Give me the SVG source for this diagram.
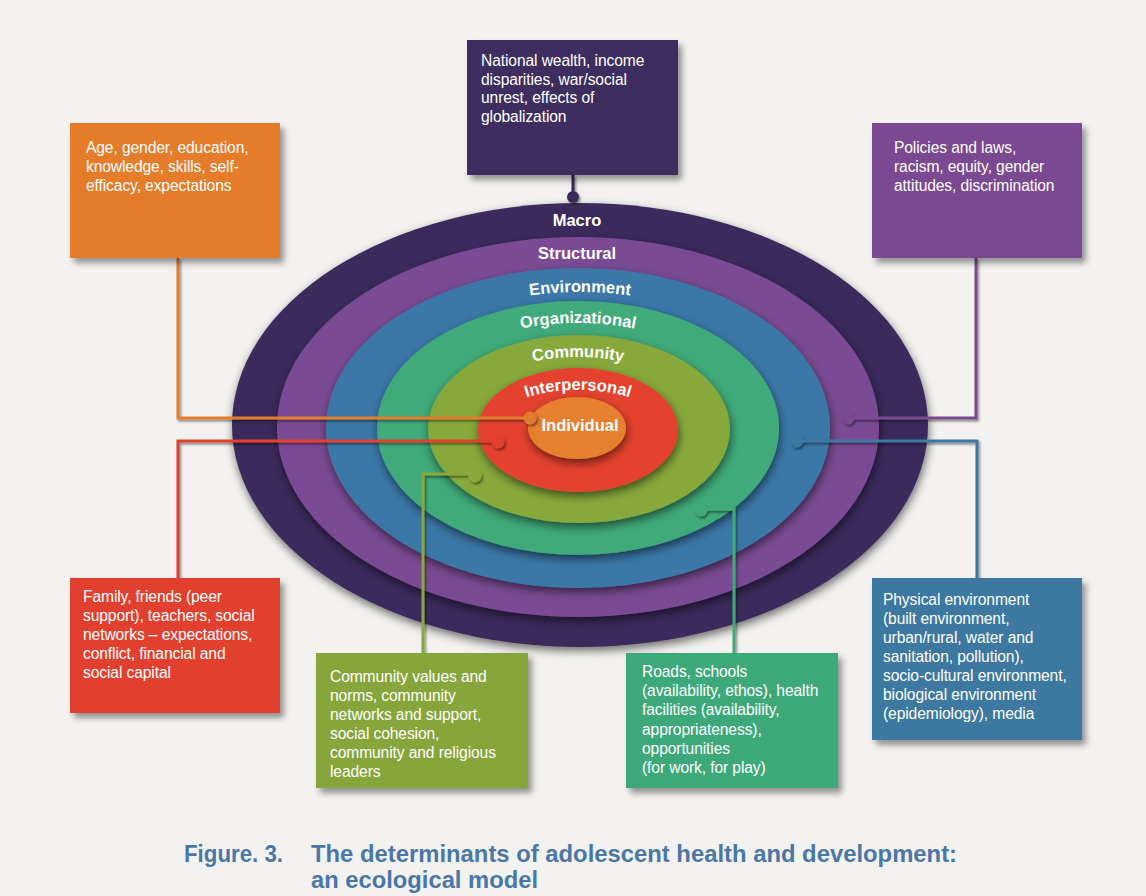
<svg xmlns="http://www.w3.org/2000/svg" width="1146" height="896" viewBox="0 0 1146 896">
  <defs>
    <filter id="boxShadow" x="-10%" y="-10%" width="125%" height="130%">
      <feDropShadow dx="4" dy="5" stdDeviation="3" flood-color="#000" flood-opacity="0.4"/>
    </filter>
    <filter id="ringShadow" x="-10%" y="-10%" width="120%" height="125%">
      <feDropShadow dx="1" dy="4" stdDeviation="5" flood-color="#000" flood-opacity="0.55"/>
    </filter>
    <filter id="lineShadow" x="-10%" y="-10%" width="120%" height="120%">
      <feDropShadow dx="1.5" dy="2" stdDeviation="1.2" flood-color="#000" flood-opacity="0.45"/>
    </filter>
    <!-- baselines for the curved ring labels -->
    <path id="arcEnv" d="M350,437 A230,145 0 0 1 810,437"/>
    <path id="arcOrg" d="M398,433 A180,110 0 0 1 758,433"/>
    <path id="arcCom" d="M443,437 A135,80 0 0 1 713,437"/>
    <path id="arcInt" d="M483,436 A95,46 0 0 1 673,436"/>
  </defs>
  <style>
    .box text { font-family: "Liberation Sans", Arial, sans-serif; font-size: 15.6px; fill: #ffffff; letter-spacing: -0.1px; }
    .ring-label { font-family: "Liberation Sans", Arial, sans-serif; font-size: 16.5px; font-weight: bold; fill: #ffffff; text-anchor: middle; }
    .conn path { fill: none; stroke-width: 3; }
    .caption { font-family: "Liberation Sans", Arial, sans-serif; font-size: 24px; font-weight: bold; fill: #4a77a5; }
  </style>

  <rect width="1146" height="896" fill="#f3f2f0"/>

  <!-- concentric ecological levels -->
  <g id="rings">
    <ellipse id="ring-macro" cx="580" cy="425" rx="348" ry="222" fill="#3b2c5c" filter="url(#ringShadow)"/>
    <ellipse id="ring-structural" cx="578" cy="427" rx="301" ry="190" fill="#7a4b94" filter="url(#ringShadow)"/>
    <ellipse id="ring-environment" cx="578" cy="428" rx="252" ry="160" fill="#3b78a8" filter="url(#ringShadow)"/>
    <ellipse id="ring-organizational" cx="578" cy="428" rx="201" ry="127" fill="#40aa7a" filter="url(#ringShadow)"/>
    <ellipse id="ring-community" cx="579" cy="429" rx="151" ry="94" fill="#87a93a" filter="url(#ringShadow)"/>
    <ellipse id="ring-interpersonal" cx="578" cy="430" rx="100" ry="62" fill="#e4422f" filter="url(#ringShadow)"/>
    <ellipse id="ring-individual" cx="577" cy="428" rx="49" ry="31" fill="#e67f2e" filter="url(#ringShadow)"/>

    <text class="ring-label" x="577" y="226">Macro</text>
    <text class="ring-label" x="577" y="259">Structural</text>
    <text class="ring-label"><textPath href="#arcEnv" startOffset="50%">Environment</textPath></text>
    <text class="ring-label"><textPath href="#arcOrg" startOffset="50%">Organizational</textPath></text>
    <text class="ring-label" fill="#f6f4dc"><textPath href="#arcCom" startOffset="50%">Community</textPath></text>
    <text class="ring-label"><textPath href="#arcInt" startOffset="50%">Interpersonal</textPath></text>
    <text class="ring-label" x="580" y="431">Individual</text>
  </g>

  <!-- connectors from the boxes to their levels -->
  <g id="connectors" class="conn" filter="url(#lineShadow)">
    <path d="M573,175 V197" stroke="#3b2c5c"/>
    <circle cx="573" cy="197" r="6" fill="#3b2c5c"/>

    <path d="M178,258 V418 H530" stroke="#e27c2d"/>
    <circle cx="530" cy="418" r="6.5" fill="#e27c2d"/>

    <path d="M976,258 V418 H848" stroke="#7a4a92"/>
    <circle cx="848" cy="418" r="6.5" fill="#7a4a92"/>

    <path d="M178,578 V441 H498" stroke="#e2412e"/>
    <circle cx="498" cy="442" r="6.5" fill="#e2412e"/>

    <path d="M977,578 V441 H797" stroke="#3c78a2"/>
    <circle cx="797" cy="441" r="6.5" fill="#3c78a2"/>

    <path d="M423,653 V474 H475" stroke="#87a93a"/>
    <circle cx="475" cy="476" r="6.5" fill="#87a93a"/>

    <path d="M734,653 V509 H701" stroke="#40aa7a"/>
    <circle cx="701" cy="510" r="6.5" fill="#40aa7a"/>
  </g>

  <g id="box-macro" class="box">
    <rect x="467" y="40" width="211" height="135" fill="#3d2d5e" filter="url(#boxShadow)"/>
    <text x="481" y="66">National wealth, income<tspan x="481" dy="18.7">disparities, war/social</tspan><tspan x="481" dy="18.7">unrest, effects of</tspan><tspan x="481" dy="18.7">globalization</tspan></text>
  </g>

  <g id="box-individual" class="box">
    <rect x="70" y="123" width="210" height="135" fill="#e47b2c" filter="url(#boxShadow)"/>
    <text x="86" y="153">Age, gender, education,<tspan x="86" dy="19">knowledge, skills, self-</tspan><tspan x="86" dy="19">efficacy, expectations</tspan></text>
  </g>

  <g id="box-structural" class="box">
    <rect x="872" y="123" width="210" height="135" fill="#7a4891" filter="url(#boxShadow)"/>
    <text x="894" y="153">Policies and laws,<tspan x="894" dy="19">racism, equity, gender</tspan><tspan x="894" dy="19">attitudes, discrimination</tspan></text>
  </g>

  <g id="box-interpersonal" class="box">
    <rect x="70" y="578" width="210" height="135" fill="#e2402e" filter="url(#boxShadow)"/>
    <text x="83" y="602">Family, friends (peer<tspan x="83" dy="19">support), teachers, social</tspan><tspan x="83" dy="19">networks – expectations,</tspan><tspan x="83" dy="19">conflict, financial and</tspan><tspan x="83" dy="19">social capital</tspan></text>
  </g>

  <g id="box-environment" class="box">
    <rect x="872" y="578" width="210" height="162" fill="#3d78a0" filter="url(#boxShadow)"/>
    <text x="883" y="605">Physical environment<tspan x="883" dy="19">(built environment,</tspan><tspan x="883" dy="19">urban/rural, water and</tspan><tspan x="883" dy="19">sanitation, pollution),</tspan><tspan x="883" dy="19">socio-cultural environment,</tspan><tspan x="883" dy="19">biological environment</tspan><tspan x="883" dy="19">(epidemiology), media</tspan></text>
  </g>

  <g id="box-community" class="box">
    <rect x="316" y="653" width="212" height="135" fill="#86a63a" filter="url(#boxShadow)"/>
    <text x="330" y="682">Community values and<tspan x="330" dy="19">norms, community</tspan><tspan x="330" dy="19">networks and support,</tspan><tspan x="330" dy="19">social cohesion,</tspan><tspan x="330" dy="19">community and religious</tspan><tspan x="330" dy="19">leaders</tspan></text>
  </g>

  <g id="box-organizational" class="box">
    <rect x="626" y="653" width="212" height="135" fill="#3ea97a" filter="url(#boxShadow)"/>
    <text x="642" y="677">Roads, schools<tspan x="642" dy="19.2">(availability, ethos), health</tspan><tspan x="642" dy="19.2">facilities (availability,</tspan><tspan x="642" dy="19.2">appropriateness),</tspan><tspan x="642" dy="19.2">opportunities</tspan><tspan x="642" dy="19.2">(for work, for play)</tspan></text>
  </g>

  <g id="caption">
    <text class="caption" x="184" y="862" textLength="99" lengthAdjust="spacingAndGlyphs">Figure. 3.</text>
    <text class="caption" x="311" y="862" textLength="646" lengthAdjust="spacingAndGlyphs">The determinants of adolescent health and development:</text>
    <text class="caption" x="311" y="888" textLength="227" lengthAdjust="spacingAndGlyphs">an ecological model</text>
  </g>
</svg>
